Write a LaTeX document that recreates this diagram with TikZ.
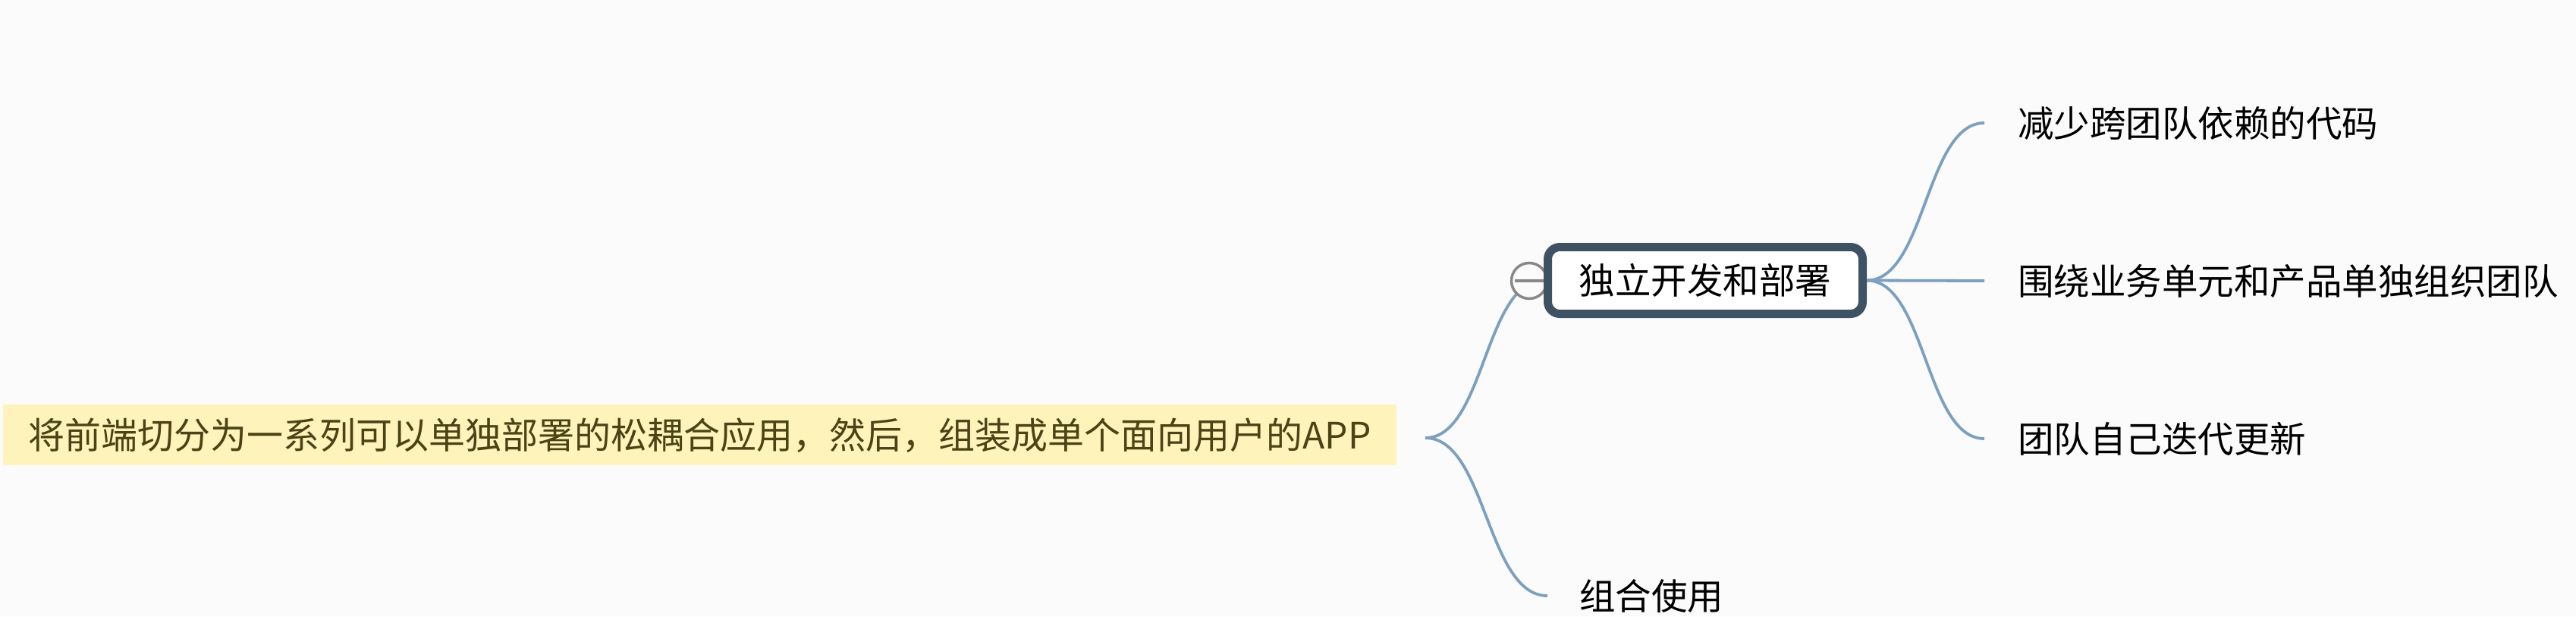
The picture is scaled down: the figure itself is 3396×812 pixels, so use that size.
\documentclass[tikz,border=0pt]{standalone}
\usepackage{fontspec}
\setmainfont{Noto Sans CJK SC}
\usetikzlibrary{calc}
\pgfdeclarelayer{bg}
\pgfdeclarelayer{links}
\pgfsetlayers{bg,links,main}
\definecolor{bgc}{HTML}{FBFBFB}
\definecolor{rootfill}{HTML}{FEF3BA}
\definecolor{roottext}{HTML}{4A4316}
\definecolor{linkc}{HTML}{7DA0BF}
\definecolor{boxline}{HTML}{3F5263}
\definecolor{knob}{HTML}{888888}
\tikzset{
  txt/.style={font=\fontsize{47.5pt}{57pt}\selectfont, text height=39.9pt, text depth=3.8pt},
  rootbox/.style={font=\fontsize{48pt}{58pt}\selectfont, text height=40.3pt, text depth=3.8pt, fill=rootfill, text=roottext, minimum width=1837pt, minimum height=80pt, inner sep=0pt},
  mainbox/.style={txt, draw=boxline, line width=11pt, fill=white, rounded corners=16pt, minimum width=415pt, minimum height=88pt, inner sep=0pt, text=black},
  leaf/.style={txt, anchor=west, inner xsep=44pt, inner ysep=0pt, text=black},
  link/.style={draw=linkc, line width=3.8pt},
  knobc/.style={circle, draw=knob, line width=3.5pt, fill=bgc, minimum size=47pt, inner sep=0pt},
}
\newcommand{\curvelink}[2]{%
  \draw[link] (#1) .. controls ($(#1)!0.5!(#1-|#2)$) and ($(#2)!0.5!(#2-|#1)$) .. (#2);}
\begin{document}
\begin{tikzpicture}[x=1pt,y=-1pt]
\begin{pgfonlayer}{bg}
\fill[bgc] (0,0) rectangle (3396,812);
\end{pgfonlayer}
\useasboundingbox (0,0) rectangle (3396,812);

\node[rootbox] (root) at (922.5,573) {将前端切分为一系列可以单独部署的松耦合应用，然后，组装成单个面向用户的APP};
\coordinate (rootout) at (1879,577);

\node[knobc] (knob) at (2016,370) {};
\draw[knob, line width=3.5pt] ([xshift=6pt]knob.west) -- ([xshift=-2pt]knob.east);
\node[mainbox] (indep) at (2248,369.5) {独立开发和部署};
\coordinate (indepin) at (indep.west);
\coordinate (indepout) at (indep.east);

\node[leaf] (c1) at (2616,162) {减少跨团队依赖的代码};
\node[leaf] (c2) at (2616,370) {围绕业务单元和产品单独组织团队};
\node[leaf] (c3) at (2616,578) {团队自己迭代更新};
\node[leaf, inner xsep=42pt] (c4) at (2040,785) {组合使用};
\coordinate (c1in) at (c1.west);
\coordinate (c2in) at (c2.west);
\coordinate (c3in) at (c3.west);
\coordinate (c4in) at (c4.west);

\begin{pgfonlayer}{links}
\curvelink{rootout}{indepin}
\curvelink{rootout}{c4in}
\curvelink{indepout}{c1in}
\draw[link] (indepout) -- (c2in);
\curvelink{indepout}{c3in}
\end{pgfonlayer}
\end{tikzpicture}
\end{document}
